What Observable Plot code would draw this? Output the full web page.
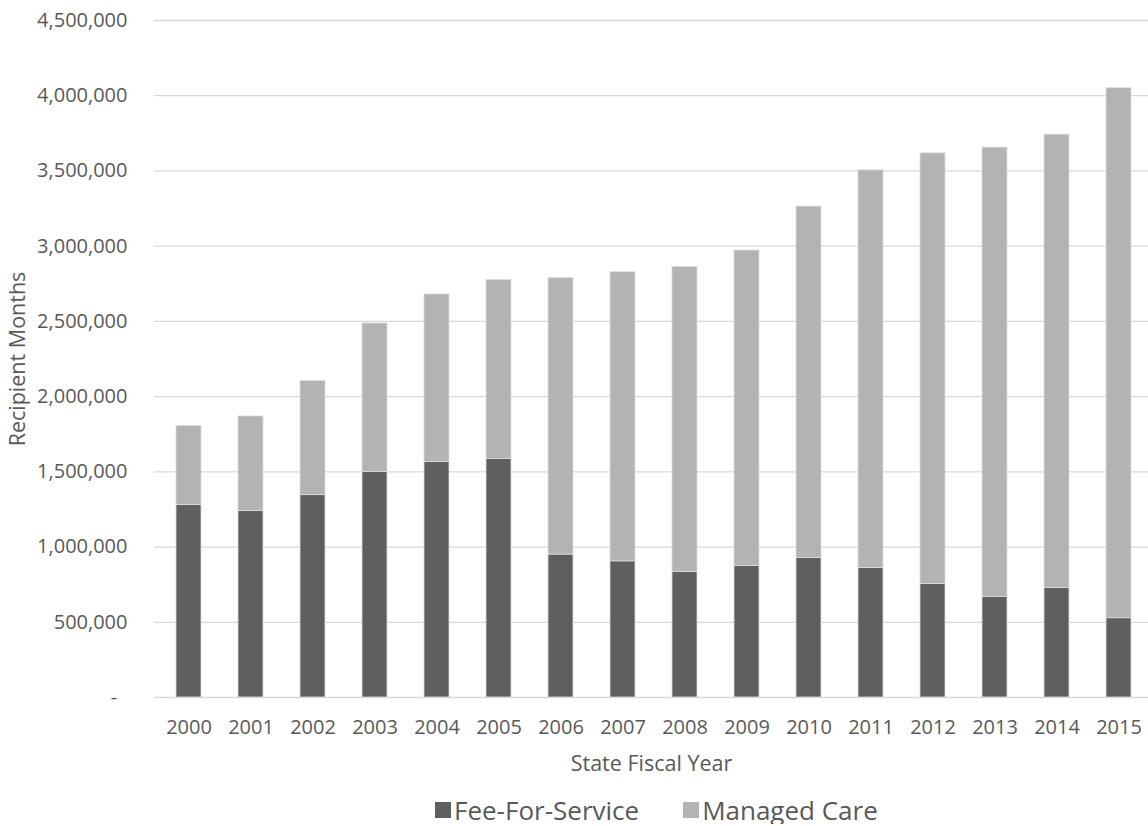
<!DOCTYPE html>
<html>
<head>
<meta charset="utf-8">
<script src="https://cdn.jsdelivr.net/npm/d3@7"></script>
<script src="https://cdn.jsdelivr.net/npm/@observablehq/plot@0.6"></script>
<style>
  html, body { margin: 0; background: #fff; font-family: "Open Sans", sans-serif; overflow: hidden; }
  #chart svg { display: block; }
  .legend { display: flex; align-items: center; padding-left: 435px; margin-top: 6px; height: 28px; line-height: 28px; }
  .legend .item { display: flex; align-items: center; margin-right: 44px; font-size: 26px; line-height: 28px; color: #595959; }
  .legend .sw { width: 16px; height: 16px; margin-right: 3px; display: inline-block; }
</style>
</head>
<body>
<div id="chart"></div>
<div class="legend" id="legend"></div>
<script>
const years = ["2000","2001","2002","2003","2004","2005","2006","2007","2008","2009","2010","2011","2012","2013","2014","2015"];
const feeForService = [1280000,1240000,1345000,1500000,1565000,1585000,950000,905000,835000,875000,928000,861000,755000,669000,728000,527000];
const managedCare = [524000,628000,758000,986000,1114000,1190000,1837000,1922000,2027000,2096000,2335000,2643000,2862000,2986000,3013000,3523000];
const seriesNames = ["Fee-For-Service","Managed Care"];
const seriesColors = ["#5f5f5f","#b3b3b3"];
const yTicks = [0,500000,1000000,1500000,2000000,2500000,3000000,3500000,4000000,4500000];
const xTitle = "State Fiscal Year";
const yTitle = "Recipient Months";

const rows = [];
years.forEach((y, i) => rows.push({year: y, series: seriesNames[0], value: feeForService[i]}));
years.forEach((y, i) => rows.push({year: y, series: seriesNames[1], value: managedCare[i]}));

const fmt = d => d === 0 ? "-\u00a0\u00a0" : d3.format(",")(d);

const chart = Plot.plot({
  width: 1148,
  height: 790,
  marginTop: 20,
  marginBottom: 93,
  marginLeft: 154,
  marginRight: 0,
  style: {fontFamily: "Open Sans, sans-serif", color: "#595959", background: "#fff"},
  x: {domain: years, range: [154, 1153], paddingInner: 0.6, paddingOuter: 0.3},
  y: {domain: [0, 4500000]},
  color: {domain: seriesNames, range: seriesColors},
  marks: [
    Plot.ruleY(yTicks, {stroke: "#d9d9d9", strokeWidth: 1.3}),
    Plot.barY(rows, {x: "year", y: "value", fill: "series", stroke: "#dcdcdc", strokeWidth: 0.8}),
    Plot.axisY({ticks: yTicks, tickSize: 0, tickPadding: 27, tickFormat: fmt, fontSize: 20, label: null, fill: "#595959"}),
    Plot.axisX({tickSize: 0, tickPadding: 22, fontSize: 20, label: null, fill: "#595959"}),
    Plot.text([xTitle], {frameAnchor: "bottom", dy: 67, lineAnchor: "middle", textAnchor: "middle", fontSize: 21.5, fill: "#595959"}),
    Plot.text([yTitle], {frameAnchor: "left", dx: -136, rotate: -90, lineAnchor: "middle", textAnchor: "middle", fontSize: 21.5, fill: "#595959"})
  ]
});
document.getElementById("chart").appendChild(chart);

const legend = document.getElementById("legend");
seriesNames.forEach((n, i) => {
  const item = document.createElement("span");
  item.className = "item";
  const sw = document.createElement("span");
  sw.className = "sw";
  sw.style.background = seriesColors[i];
  item.appendChild(sw);
  item.appendChild(document.createTextNode(n));
  legend.appendChild(item);
});
</script>
</body>
</html>
